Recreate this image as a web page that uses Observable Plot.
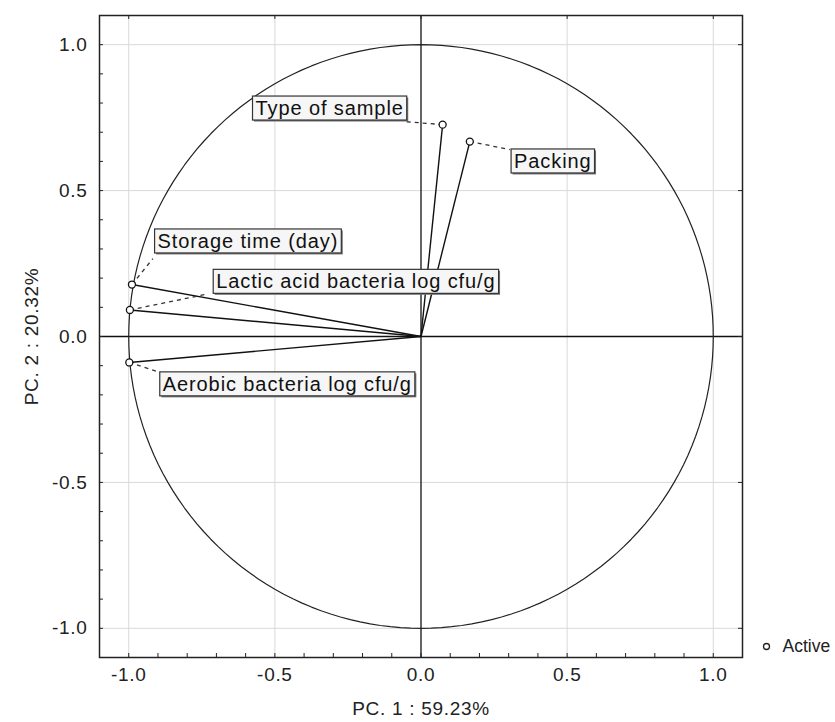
<!DOCTYPE html>
<html><head><meta charset="utf-8">
<script src="https://cdn.jsdelivr.net/npm/d3@7"></script>
<script src="https://cdn.jsdelivr.net/npm/@observablehq/plot@0.6"></script>
<style>
body{margin:0;background:#fff}
svg text{letter-spacing:0.7px}
svg g[aria-description="var-label"] text{letter-spacing:0.9px}
svg g[aria-description="legend"] text{letter-spacing:0}
</style>
</head><body><div id="chart"></div>
<script>
// ---- data ----
const variables = ["Type of sample", "Packing", "Storage time (day)", "Lactic acid bacteria log cfu/g", "Aerobic bacteria log cfu/g"];
const pc1 = [0.074, 0.167, -0.989, -0.996, -0.998];
const pc2 = [0.726, 0.668, 0.178, 0.091, -0.089];
const xTicks = [-1.0, -0.5, 0.0, 0.5, 1.0];
const yTicks = [-1.0, -0.5, 0.0, 0.5, 1.0];
const minorTicks = [-1.0,-0.9,-0.8,-0.7,-0.6,-0.5,-0.4,-0.3,-0.2,-0.1,0,0.1,0.2,0.3,0.4,0.5,0.6,0.7,0.8,0.9,1.0];
const xTitle = "PC. 1 : 59.23%";
const yTitle = "PC. 2 : 20.32%";
const legendText = "Active";

const table = variables.map((v, i) => ({name: v, x: pc1[i], y: pc2[i]}));

// ---- layout ----
const W = 835, H = 722, mL = 99, mR = 93, mT = 15, mB = 65;
const innerW = W - mL - mR, innerH = H - mT - mB;
const dom = [-1.1, 1.1];
const kx = innerW / (dom[1] - dom[0]), ky = innerH / (dom[1] - dom[0]);
// label placement offsets in pixels: text centre (dx,dy), leader end (lx,ly)
const place = {
  "Type of sample": {dx: -113, dy: -16, lx: -37, ly: -3},
  "Packing": {dx: 83, dy: 20, lx: 40, ly: 8},
  "Storage time (day)": {dx: 116, dy: -43, lx: 21, ly: -26},
  "Lactic acid bacteria log cfu/g": {dx: 226, dy: -28, lx: 78, ly: -16},
  "Aerobic bacteria log cfu/g": {dx: 158, dy: 22, lx: 34, ly: 11}
};
const circle = d3.range(0, 361, 2).map(a => ({x: Math.cos(a * Math.PI / 180), y: Math.sin(a * Math.PI / 180)}));
const fmt = d => d.toFixed(1);
const font = "'Liberation Sans', Arial, sans-serif";

const labelMarks = table.map(d => Plot.text([d], {
  x: "x", y: "y", text: "name", dx: place[d.name].dx, dy: place[d.name].dy,
  fontSize: 20, fill: "#111", ariaDescription: "var-label", textAnchor: "middle"
}));

const chart = Plot.plot({
  width: W, height: H,
  marginLeft: mL, marginRight: mR, marginTop: mT, marginBottom: mB,
  x: {domain: dom, label: null},
  y: {domain: dom, label: null},
  style: {fontFamily: font, fontSize: "19px", color: "#222", background: "#fff", overflow: "visible"},
  marks: [
    Plot.ruleX([-1, -0.5, 0.5, 1], {stroke: "#d9d9d9", strokeWidth: 1}),
    Plot.ruleY([-1, -0.5, 0.5, 1], {stroke: "#d9d9d9", strokeWidth: 1}),
    Plot.ruleX([0], {stroke: "#111", strokeWidth: 1.3}),
    Plot.ruleY([0], {stroke: "#111", strokeWidth: 1.3}),
    Plot.line(circle, {x: "x", y: "y", stroke: "#222", strokeWidth: 1.2}),
    // minor ticks (left & bottom), major ticks (top & right), all inward
    Plot.tickX(minorTicks, {x: d => d, insetTop: innerH - 4, stroke: "#222"}),
    Plot.tickY(minorTicks, {y: d => d, insetRight: innerW - 4, stroke: "#222"}),
    Plot.tickX(xTicks, {x: d => d, insetBottom: innerH - 4, stroke: "#222"}),
    Plot.tickY(yTicks, {y: d => d, insetLeft: innerW - 4, stroke: "#222"}),
    // vectors
    Plot.link(table, {x1: 0, y1: 0, x2: "x", y2: "y", stroke: "#111", strokeWidth: 1.4}),
    // leaders
    Plot.link(table, {x1: "x", y1: "y",
      x2: d => d.x + place[d.name].lx / kx, y2: d => d.y - place[d.name].ly / ky,
      stroke: "#333", strokeWidth: 1.3, strokeDasharray: "4,4"}),
    Plot.dot(table, {x: "x", y: "y", r: 3.5, stroke: "#111", fill: "#fff", strokeWidth: 1.3}),
    ...labelMarks,
    Plot.axisX({ticks: xTicks, tickFormat: fmt, tickSize: 0, tickPadding: 10, fontSize: 19, fill: "#222", label: null}),
    Plot.axisY({ticks: yTicks, tickFormat: fmt, tickSize: 0, tickPadding: 12, fontSize: 19, fill: "#222", label: null}),
    Plot.text([xTitle], {frameAnchor: "bottom", dy: 51, lineAnchor: "middle", textAnchor: "middle", text: d => d, fontSize: 19, fill: "#222"}),
    Plot.text([yTitle], {frameAnchor: "left", dx: -68, rotate: -90, lineAnchor: "middle", textAnchor: "middle", text: d => d, fontSize: 19, fill: "#222"}),
    // legend
    Plot.dot([legendText], {frameAnchor: "bottom-right", dx: 24, dy: -11, r: 3, stroke: "#222", fill: "#fff", strokeWidth: 1.3}),
    Plot.text([legendText], {frameAnchor: "bottom-right", dx: 40, dy: -11, lineAnchor: "middle", text: d => d, textAnchor: "start", fontSize: 17.5, fill: "#222", ariaDescription: "legend"}),
    Plot.frame({stroke: "#222", strokeWidth: 1.5})
  ]
});
document.getElementById("chart").appendChild(chart);

// boxes behind the variable labels
chart.querySelectorAll('g[aria-description="var-label"] text').forEach(t => {
  const b = t.getBBox();
  const tr = t.getAttribute("transform");
  const ns = "http://www.w3.org/2000/svg";
  const pad = 3;
  const shadow = document.createElementNS(ns, "rect");
  const box = document.createElementNS(ns, "rect");
  [[shadow, 1.5, "#777", "none"], [box, 0, "#f6f6f6", "#333"]].forEach(([r, o, f, s]) => {
    r.setAttribute("x", b.x - pad + o);
    r.setAttribute("y", b.y - 1 + o);
    r.setAttribute("width", b.width + 2 * pad);
    r.setAttribute("height", b.height + 2);
    r.setAttribute("fill", f);
    r.setAttribute("stroke", s);
    r.setAttribute("stroke-width", 1.2);
    if (tr) r.setAttribute("transform", tr);
    t.parentNode.insertBefore(r, t);
  });
});
</script></body></html>
